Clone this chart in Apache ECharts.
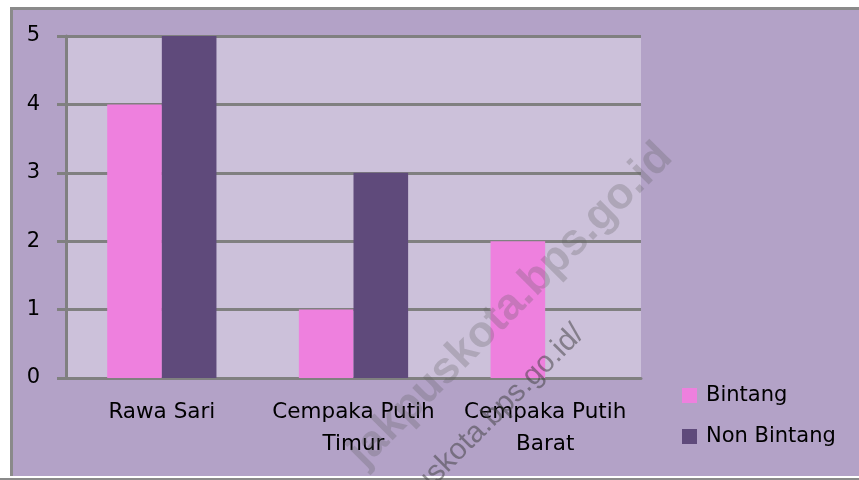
<!DOCTYPE html>
<html>
<head>
<meta charset="utf-8">
<script src="https://cdn.jsdelivr.net/npm/echarts@6/dist/echarts.min.js"></script>
<style>
  html, body { margin: 0; padding: 0; background: #fff; }
  #chart { width: 859px; height: 480px; }
</style>
</head>
<body>
<div id="chart"></div>
<script>
// values
const categories = ['Rawa Sari', 'Cempaka Putih\nTimur', 'Cempaka Putih\nBarat']
const bintang = [4, 1, 2]
const nonBintang = [5, 3, 0]
const yTicks = { min: 0, max: 5, interval: 1 }

const C = {
  outer: '#B3A2C7',
  plot: '#CCC1DA',
  pink: '#EE80DE',
  purple: '#5F4A7B',
  line: '#808080',
  frame: '#8a8a8a',
  text: '#000',
  font: '"DejaVu Sans", sans-serif',
}

const chart = echarts.init(document.getElementById('chart'))

chart.setOption({
  backgroundColor: '#fff',
  animation: false,
  textStyle: { fontFamily: C.font, color: C.text },
  graphic: [
    // outer chart area + its frame (left / top), thin grey line at the very bottom
    { type: 'rect', z: -10, shape: { x: 10, y: 7, width: 849, height: 469 }, style: { fill: C.outer } },
    { type: 'rect', z: -9, shape: { x: 10, y: 7, width: 849, height: 3 }, style: { fill: C.frame } },
    { type: 'rect', z: -9, shape: { x: 10, y: 7, width: 3, height: 469 }, style: { fill: C.frame } },
    { type: 'rect', z: -9, shape: { x: 0, y: 478, width: 859, height: 2 }, style: { fill: C.frame } },
    // watermark
    {
      type: 'text',
      z: 100,
      x: 681,
      y: 166,
      rotation: Math.PI / 4,
      style: {
        text: 'jakpuskota.bps.go.id',
        font: 'bold 44px "Liberation Sans", sans-serif',
        fill: 'rgba(90,90,90,0.26)',
        align: 'right',
        verticalAlign: 'bottom',
      },
    },
    {
      type: 'text',
      z: 100,
      x: 590,
      y: 340,
      rotation: Math.PI / 4,
      style: {
        text: 'http://jakpuskota.bps.go.id/',
        font: '30px "Liberation Sans", sans-serif',
        fill: 'rgba(60,60,60,0.5)',
        align: 'right',
        verticalAlign: 'bottom',
      },
    },
  ],
  grid: {
    left: 66,
    right: 218,
    top: 36,
    bottom: 102,
    show: true,
    backgroundColor: C.plot,
    borderWidth: 0,
    containLabel: false,
    outerBoundsMode: 'none',
  },
  legend: {
    orient: 'vertical',
    left: 682,
    top: 385,
    padding: 0,
    itemWidth: 15,
    itemHeight: 15,
    itemGap: 20,
    icon: 'rect',
    textStyle: { fontSize: 21, lineHeight: 20, color: C.text, fontFamily: C.font, padding: [0, 0, 0, 4] },
    data: ['Bintang', 'Non Bintang'],
  },
  xAxis: {
    type: 'category',
    data: categories,
    axisLine: { lineStyle: { color: C.line, width: 3 } },
    axisTick: { length: 9, lineStyle: { color: C.line, width: 3 } },
    axisLabel: { fontSize: 21.5, lineHeight: 32, margin: 18, color: C.text, fontFamily: C.font, interval: 0 },
    splitLine: { show: false },
  },
  yAxis: {
    type: 'value',
    min: yTicks.min,
    max: yTicks.max,
    interval: yTicks.interval,
    axisLine: { show: true, lineStyle: { color: C.line, width: 3 } },
    axisTick: { show: true, length: 9, lineStyle: { color: C.line, width: 3 } },
    axisLabel: { fontSize: 21, margin: 26, color: C.text, fontFamily: C.font },
    splitLine: { lineStyle: { color: C.line, width: 3 } },
  },
  series: [
    {
      name: 'Bintang',
      type: 'bar',
      data: bintang,
      barGap: '0%',
      barCategoryGap: '43%',
      itemStyle: { color: C.pink },
    },
    {
      name: 'Non Bintang',
      type: 'bar',
      data: nonBintang,
      barGap: '0%',
      barCategoryGap: '43%',
      itemStyle: { color: C.purple },
    },
  ],
})
</script>
</body>
</html>
